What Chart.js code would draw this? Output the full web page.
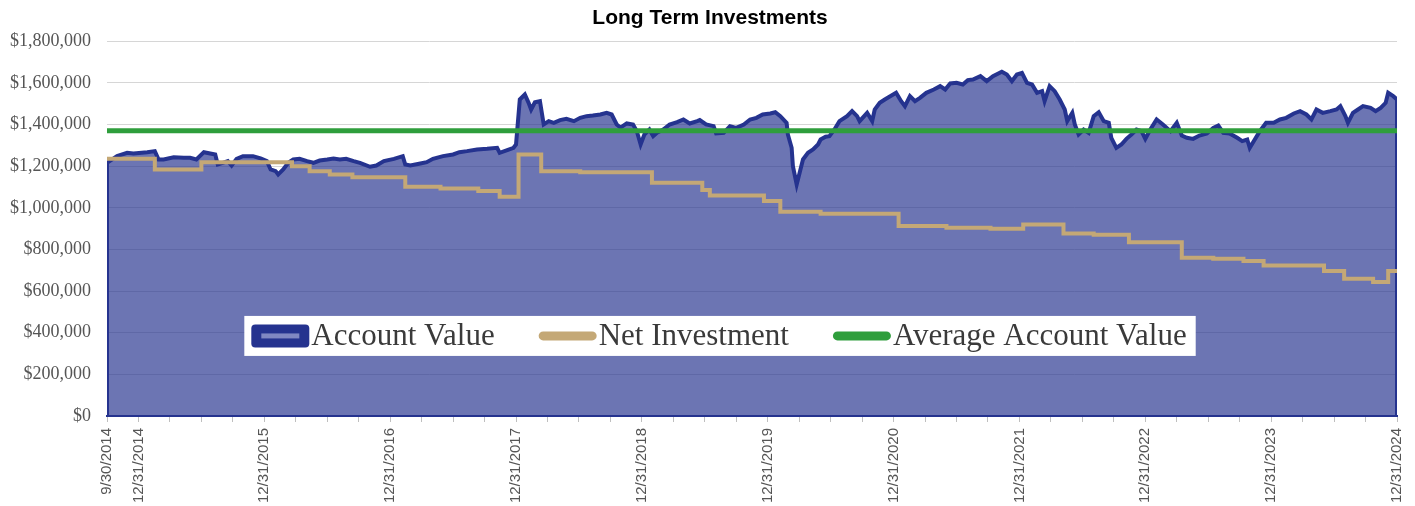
<!DOCTYPE html>
<html>
<head>
<meta charset="utf-8">
<title>Long Term Investments</title>
<script src="https://cdn.jsdelivr.net/npm/chart.js@4.4.1/dist/chart.umd.min.js"></script>
<style>
  body { margin: 0; background: #fff; }
  #wrap { width: 1415px; height: 506px; }
</style>
</head>
<body>
<div id="wrap"><canvas id="myChart"></canvas></div>
<script>
// dates are decimal years (2014.75 = 9/30/2014, 2025.0 = 12/31/2024)
const accountDates = [
  2014.75, 2014.75, 2014.83, 2014.91, 2014.96, 2015.07, 2015.13, 2015.16, 2015.20, 2015.28,
  2015.36, 2015.41, 2015.46, 2015.52, 2015.57, 2015.61, 2015.63, 2015.67, 2015.71, 2015.74,
  2015.78, 2015.83, 2015.91, 2015.97, 2016.02, 2016.05, 2016.09, 2016.11, 2016.15, 2016.19,
  2016.23, 2016.28, 2016.34, 2016.39, 2016.44, 2016.50, 2016.55, 2016.60, 2016.65, 2016.71,
  2016.76, 2016.84, 2016.89, 2016.95, 2017.03, 2017.10, 2017.12, 2017.16, 2017.24, 2017.29,
  2017.34, 2017.42, 2017.50, 2017.55, 2017.61, 2017.69, 2017.77, 2017.85, 2017.87, 2017.93,
  2017.98, 2018.00, 2018.03, 2018.07, 2018.10, 2018.12, 2018.15, 2018.19, 2018.22, 2018.26,
  2018.30, 2018.35, 2018.40, 2018.46, 2018.51, 2018.56, 2018.61, 2018.67, 2018.72, 2018.76,
  2018.80, 2018.83, 2018.88, 2018.93, 2018.96, 2018.99, 2019.02, 2019.06, 2019.09, 2019.12,
  2019.17, 2019.22, 2019.28, 2019.33, 2019.38, 2019.44, 2019.46, 2019.51, 2019.57, 2019.59,
  2019.65, 2019.70, 2019.75, 2019.81, 2019.86, 2019.91, 2019.96, 2020.02, 2020.06, 2020.10,
  2020.15, 2020.16, 2020.19, 2020.20, 2020.23, 2020.26, 2020.28, 2020.32, 2020.36, 2020.40,
  2020.42, 2020.46, 2020.49, 2020.53, 2020.57, 2020.63, 2020.67, 2020.71, 2020.73, 2020.79,
  2020.83, 2020.85, 2020.89, 2020.93, 2021.02, 2021.06, 2021.09, 2021.13, 2021.17, 2021.21,
  2021.26, 2021.32, 2021.37, 2021.41, 2021.45, 2021.50, 2021.55, 2021.59, 2021.63, 2021.69,
  2021.74, 2021.79, 2021.86, 2021.90, 2021.94, 2021.98, 2022.02, 2022.06, 2022.10, 2022.14,
  2022.18, 2022.20, 2022.24, 2022.28, 2022.32, 2022.36, 2022.38, 2022.42, 2022.44, 2022.47,
  2022.51, 2022.55, 2022.59, 2022.63, 2022.67, 2022.71, 2022.73, 2022.77, 2022.81, 2022.85,
  2022.89, 2022.93, 2022.97, 2023.00, 2023.04, 2023.09, 2023.14, 2023.20, 2023.25, 2023.29,
  2023.33, 2023.38, 2023.43, 2023.49, 2023.54, 2023.58, 2023.62, 2023.67, 2023.73, 2023.77,
  2023.81, 2023.83, 2023.87, 2023.91, 2023.96, 2024.02, 2024.07, 2024.12, 2024.18, 2024.23,
  2024.28, 2024.32, 2024.36, 2024.41, 2024.47, 2024.52, 2024.55, 2024.59, 2024.61, 2024.65,
  2024.69, 2024.73, 2024.79, 2024.83, 2024.87, 2024.91, 2024.93, 2024.97, 2025.00, 2025.00
];
const accountValues = [
  0, 1216000, 1248000, 1264000, 1261000, 1267000, 1272000, 1232000, 1232000, 1243000,
  1240000, 1240000, 1232000, 1267000, 1261000, 1256000, 1208000, 1216000, 1224000, 1203000,
  1235000, 1248000, 1248000, 1237000, 1224000, 1184000, 1176000, 1160000, 1184000, 1216000,
  1232000, 1235000, 1224000, 1216000, 1227000, 1232000, 1237000, 1232000, 1235000, 1224000,
  1216000, 1197000, 1203000, 1224000, 1235000, 1248000, 1208000, 1203000, 1213000, 1219000,
  1235000, 1248000, 1256000, 1267000, 1272000, 1280000, 1283000, 1288000, 1264000, 1277000,
  1288000, 1304000, 1520000, 1544000, 1504000, 1472000, 1507000, 1512000, 1400000, 1416000,
  1408000, 1421000, 1427000, 1416000, 1432000, 1440000, 1443000, 1448000, 1456000, 1448000,
  1400000, 1385000, 1405000, 1400000, 1368000, 1304000, 1352000, 1376000, 1344000, 1360000,
  1376000, 1400000, 1411000, 1424000, 1405000, 1416000, 1421000, 1400000, 1392000, 1357000,
  1360000, 1392000, 1384000, 1400000, 1424000, 1432000, 1448000, 1453000, 1459000, 1440000,
  1408000, 1352000, 1288000, 1200000, 1112000, 1184000, 1232000, 1264000, 1280000, 1304000,
  1328000, 1341000, 1344000, 1376000, 1416000, 1440000, 1464000, 1440000, 1416000, 1456000,
  1416000, 1472000, 1504000, 1520000, 1552000, 1512000, 1488000, 1536000, 1512000, 1528000,
  1552000, 1568000, 1584000, 1568000, 1597000, 1600000, 1592000, 1613000, 1616000, 1632000,
  1608000, 1632000, 1653000, 1640000, 1608000, 1640000, 1648000, 1600000, 1592000, 1552000,
  1560000, 1512000, 1584000, 1560000, 1520000, 1472000, 1416000, 1456000, 1400000, 1352000,
  1376000, 1360000, 1440000, 1459000, 1416000, 1408000, 1336000, 1288000, 1304000, 1331000,
  1352000, 1376000, 1368000, 1331000, 1376000, 1424000, 1400000, 1368000, 1408000, 1347000,
  1336000, 1331000, 1347000, 1357000, 1384000, 1395000, 1360000, 1357000, 1336000, 1320000,
  1328000, 1288000, 1328000, 1368000, 1408000, 1408000, 1424000, 1432000, 1453000, 1464000,
  1448000, 1424000, 1472000, 1456000, 1464000, 1472000, 1488000, 1440000, 1408000, 1456000,
  1472000, 1488000, 1480000, 1464000, 1480000, 1504000, 1552000, 1536000, 1520000, 0
];

const netDates = [
  2014.75, 2015.13, 2015.50, 2016.22, 2016.36, 2016.52, 2016.70, 2017.12, 2017.40, 2017.70,
  2017.87, 2018.02, 2018.20, 2018.51, 2019.08, 2019.48, 2019.54, 2019.97, 2020.10, 2020.42,
  2021.04, 2021.42, 2021.77, 2022.03, 2022.35, 2022.59, 2022.87, 2023.29, 2023.54, 2023.78,
  2023.94, 2024.42, 2024.58, 2024.81, 2024.93, 2025.00
];
const netValues = [
  1235000, 1184000, 1219000, 1200000, 1176000, 1160000, 1147000, 1101000, 1093000, 1080000,
  1053000, 1256000, 1176000, 1171000, 1120000, 1085000, 1059000, 1032000, 981000, 971000,
  912000, 904000, 899000, 920000, 877000, 870000, 835000, 760000, 755000, 744000,
  723000, 696000, 659000, 643000, 696000, 696000
];

const averageDates = [2014.75, 2025.0];
const averageValues = [1370000, 1370000];

const tickDates = [2014.75, 2015, 2016, 2017, 2018, 2019, 2020, 2021, 2022, 2023, 2024, 2025];
const tickLabels = [
  "9/30/2014", "12/31/2014", "12/31/2015", "12/31/2016", "12/31/2017", "12/31/2018",
  "12/31/2019", "12/31/2020", "12/31/2021", "12/31/2022", "12/31/2023", "12/31/2024"
];

function toPoints(xs, ys) {
  return xs.map(function (x, i) {
    return { x: x, y: ys[i] };
  });
}

function roundRect(ctx, x, y, w, h, r) {
  ctx.beginPath();
  ctx.moveTo(x + r, y);
  ctx.arcTo(x + w, y, x + w, y + h, r);
  ctx.arcTo(x + w, y + h, x, y + h, r);
  ctx.arcTo(x, y + h, x, y, r);
  ctx.arcTo(x, y, x + w, y, r);
  ctx.closePath();
}

// legend sits in a white box inside the plot area
const insideLegend = {
  id: "insideLegend",
  afterLayout(chart) {
    // title in the source sits a little right of the page centre
    chart.titleBlock.left = 23;
  },
  afterDraw(chart) {
    const ctx = chart.ctx;
    const area = chart.chartArea;
    const sets = chart.data.datasets;
    const swatchW = 58, textGap = 2, itemGap = 44, padL = 7, padR = 9, boxH = 40;
    ctx.save();
    ctx.font = "31px 'Liberation Serif', 'Times New Roman', serif";
    let total = padL + padR;
    sets.forEach(function (ds, i) {
      total += swatchW + textGap + ctx.measureText(ds.label).width + (i > 0 ? itemGap : 0);
    });
    const left = area.left + area.width * 0.4752 - total / 2;
    const top = area.top + area.height * 0.733;
    const midY = top + boxH / 2;
    ctx.fillStyle = "#ffffff";
    ctx.fillRect(left, top, total, boxH);
    let x = left + padL;
    sets.forEach(function (ds, i) {
      if (i > 0) x += itemGap;
      if (ds.fill) {
        ctx.fillStyle = ds.borderColor;
        roundRect(ctx, x, midY - 11.5, swatchW, 23, 4);
        ctx.fill();
        ctx.fillStyle = "#8088c2";
        ctx.fillRect(x + 10, midY - 2.5, 38, 5);
      } else {
        ctx.strokeStyle = ds.borderColor;
        ctx.lineWidth = 9;
        ctx.lineCap = "round";
        ctx.beginPath();
        ctx.moveTo(x + 4.5, midY);
        ctx.lineTo(x + swatchW - 4.5, midY);
        ctx.stroke();
      }
      x += swatchW + textGap;
      ctx.fillStyle = "#3a3a3a";
      ctx.textBaseline = "middle";
      ctx.textAlign = "left";
      ctx.fillText(ds.label, x, midY + 1);
      x += ctx.measureText(ds.label).width;
    });
    ctx.restore();
  },
};

function createChart() {
  const ctx = document.getElementById("myChart").getContext("2d");
  const myChart = new Chart(ctx, {
    type: "line",
    data: {
      datasets: [
        {
          label: "Account Value",
          data: toPoints(accountDates, accountValues),
          borderColor: "#25338f",
          backgroundColor: "rgba(37, 51, 143, 0.675)",
          borderWidth: 4,
          fill: "origin",
          pointRadius: 0,
          tension: 0,
          order: 3,
        },
        {
          label: "Net Investment",
          data: toPoints(netDates, netValues),
          borderColor: "#c4a876",
          borderWidth: 4,
          fill: false,
          stepped: true,
          pointRadius: 0,
          order: 2,
        },
        {
          label: "Average Account Value",
          data: toPoints(averageDates, averageValues),
          borderColor: "#2f9e3c",
          borderWidth: 5,
          fill: false,
          pointRadius: 0,
          order: 1,
        },
      ],
    },
    options: {
      responsive: true,
      maintainAspectRatio: false,
      animation: false,
      layout: {
        padding: { left: 0, right: 18, top: 0, bottom: 0 },
      },
      plugins: {
        legend: { display: false },
        tooltip: { enabled: false },
        title: {
          display: true,
          text: "Long Term Investments",
          color: "#000",
          font: { family: "'Liberation Sans', Arial, sans-serif", size: 21, weight: "bold" },
          padding: { top: 6, bottom: 10 },
        },
      },
      scales: {
        x: {
          type: "linear",
          min: 2014.75,
          max: 2025,
          afterFit: function (scale) {
            scale.height = 90;
            scale.paddingLeft = 0;
            scale.paddingRight = 0;
          },
          border: { display: true, color: "#25338f", width: 2 },
          grid: {
            drawOnChartArea: false,
            drawTicks: true,
            tickLength: 6,
            color: "#bfbfbf",
          },
          ticks: {
            stepSize: 0.25,
            autoSkip: false,
            minRotation: 90,
            maxRotation: 90,
            padding: 6,
            color: "#555",
            font: { family: "'Liberation Sans', Arial, sans-serif", size: 15 },
            callback: function (value) {
              for (let i = 0; i < tickDates.length; i++) {
                if (Math.abs(tickDates[i] - value) < 0.001) return tickLabels[i];
              }
              return "";
            },
          },
        },
        y: {
          min: 0,
          max: 1800000,
          afterFit: function (scale) {
            scale.width = 107;
          },
          border: { display: false },
          grid: { color: "#d6d6d6", drawTicks: false },
          ticks: {
            stepSize: 200000,
            padding: 16,
            color: "#555",
            font: { family: "'Liberation Serif', 'Times New Roman', serif", size: 18 },
            callback: function (value) {
              return "$" + value.toLocaleString("en-US");
            },
          },
        },
      },
    },
    plugins: [insideLegend],
  });
}

createChart();
</script>
</body>
</html>
